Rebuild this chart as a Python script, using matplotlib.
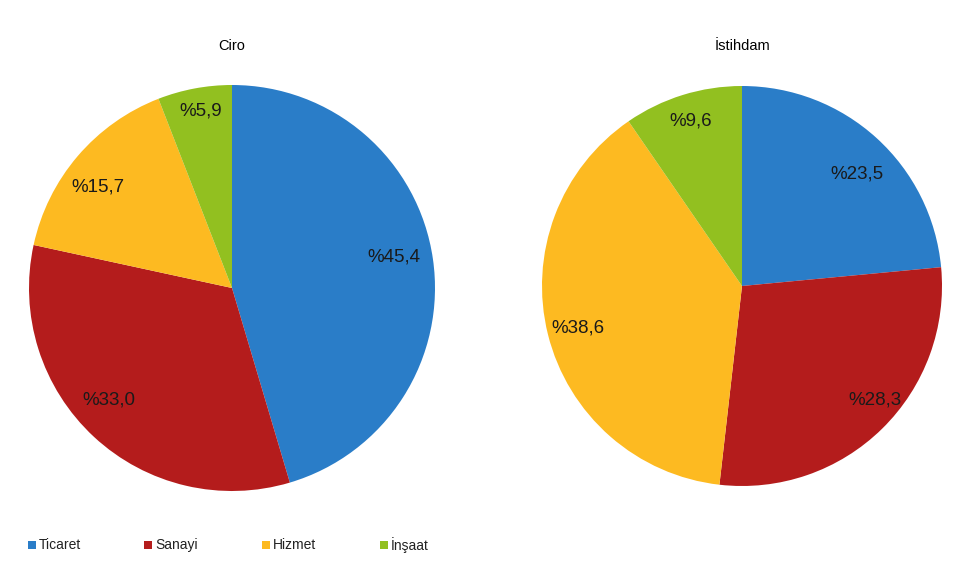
import matplotlib.pyplot as plt
from matplotlib.patches import Rectangle

plt.rcParams['font.family'] = ['Liberation Sans', 'DejaVu Sans']

sectors = ["Ticaret", "Sanayi", "Hizmet", "İnşaat"]
colors = ["#2a7dc8", "#b41c1c", "#fdba21", "#92c020"]
ciro = [45.4, 33.0, 15.7, 5.9]
istihdam = [23.5, 28.3, 38.6, 9.6]
titles = ["Ciro", "İstihdam"]

# small pixel nudges for the percentage labels (Excel doesn't place them evenly)
nudge_ciro = [(-7, -6), (-7, -13), (-4, 10), (0, -9)]
nudge_ist = [(2, 12), (15, -6), (-1, 1), (-1, -5)]

W, H = 960, 576
fig = plt.figure(figsize=(9.6, 5.76), dpi=100)

# pie centres / radii in pixels
pies = [(ciro, 232, 288, 203, nudge_ciro), (istihdam, 742, 286, 200, nudge_ist)]

for (vals, cx, cy, r, nudges), title in zip(pies, titles):
    ax = fig.add_axes(((cx - r) / W, (H - cy - r) / H, 2 * r / W, 2 * r / H))
    labels = ["%" + f"{v:.1f}".replace(".", ",") for v in vals]
    wedges, texts = ax.pie(vals, colors=colors, startangle=90, counterclock=False,
                           labels=labels, labeldistance=0.84,
                           wedgeprops=dict(linewidth=0),
                           textprops=dict(fontsize=13.5, color="#1a1a1a",
                                          ha="center", va="center"))
    for t, (dx, dy) in zip(texts, nudges):
        t.set_horizontalalignment("center")
        x, y = t.get_position()
        t.set_position((x + dx / r, y - dy / r))
    ax.set_xlim(-1, 1)
    ax.set_ylim(-1, 1)
    ax.set_aspect("equal")
    fig.text(cx / W, 1 - 46 / H, title, ha="center", va="center", fontsize=10.5)

# legend row at the bottom
leg_x = [32, 148, 266, 384]
leg_y = 545
for x, name, c in zip(leg_x, sectors, colors):
    fig.patches.append(Rectangle(((x - 4) / W, 1 - (leg_y + 4) / H), 8 / W, 8 / H,
                                 transform=fig.transFigure, facecolor=c,
                                 edgecolor="none"))
    fig.text((x + 7) / W, 1 - leg_y / H, name, ha="left", va="center",
             fontsize=10, color="#222222")

fig.savefig("out.png", dpi=100, facecolor="white")
